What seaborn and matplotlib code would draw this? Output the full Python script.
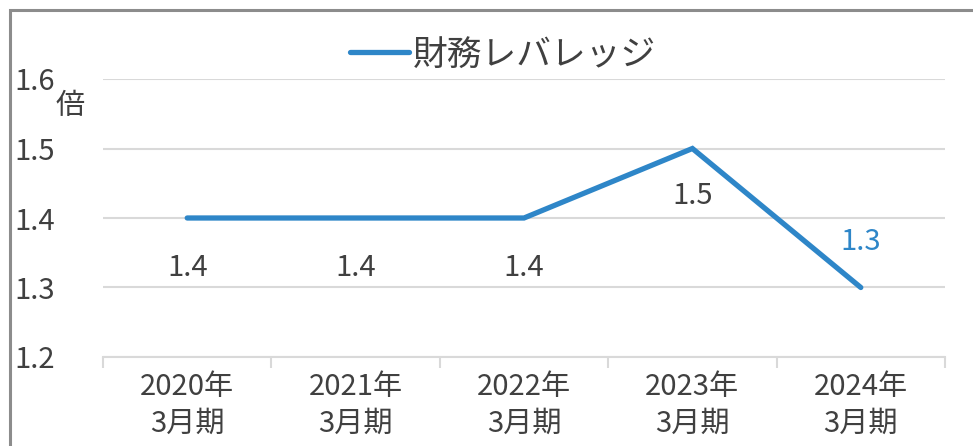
import matplotlib
matplotlib.use("Agg")
import matplotlib.pyplot as plt
from matplotlib.patches import Rectangle
import numpy as np
import pandas as pd
import seaborn as sns

sns.set_theme(style="white")
plt.rcParams['font.family'] = ['Noto Sans CJK JP', 'DejaVu Sans']

# data
categories = ["2020年\n3月期", "2021年\n3月期", "2022年\n3月期", "2023年\n3月期", "2024年\n3月期"]
leverage = [1.4, 1.4, 1.4, 1.5, 1.3]
label_offsets = [-0.072, -0.072, -0.072, -0.068, 0.065]
label_colors = ["#404040", "#404040", "#404040", "#404040", "#2E86C8"]
y_ticks = [1.2, 1.3, 1.4, 1.5, 1.6]
series_name = "財務レバレッジ"
unit = "倍"

line_color = "#2E86C8"
text_color = "#404040"
grid_color = "#D9D9D9"

W, H = 973, 446
fig = plt.figure(figsize=(W / 100, H / 100), dpi=100)
fig.patch.set_facecolor("white")

# frame (cut off at right and bottom like the screenshot)
fig.patches.append(Rectangle((10 / W, -0.1), 1.2, 1.1 - 10 / H,
                             transform=fig.transFigure, fill=False,
                             edgecolor="#8C8C8C", linewidth=2.2))

ax = fig.add_axes([103 / W, (H - 357) / H, (945 - 103) / W, (357 - 79) / H])

df = pd.DataFrame({"x": np.arange(len(categories)), "y": leverage})
sns.lineplot(data=df, x="x", y="y", ax=ax, color=line_color, linewidth=3.8,
             solid_capstyle="round", solid_joinstyle="miter", label=series_name)

for i, (v, off, c) in enumerate(zip(leverage, label_offsets, label_colors)):
    ax.text(i, v + off, f"{v:.1f}", ha="center", va="center",
            fontsize=21, color=c)

ax.set_xlim(-0.5, len(categories) - 0.5)
ax.set_ylim(1.2, 1.6)
ax.set_yticks(y_ticks)
ax.set_yticklabels([f"{t:.1f}" for t in y_ticks])
ax.set_xticks(range(len(categories)))
ax.set_xticklabels(categories, linespacing=1.3)
ax.set_xticks(np.arange(-0.5, len(categories)), minor=True)
ax.tick_params(axis="x", which="major", length=0, pad=11, labelsize=21,
               labelcolor=text_color)
ax.tick_params(axis="x", which="minor", length=8, width=1.5, color=grid_color,
               direction="out", bottom=True)
ax.tick_params(axis="y", length=0, pad=64, labelsize=21, labelcolor=text_color)
for lab in ax.get_yticklabels():
    lab.set_horizontalalignment("left")
ax.set_xlabel("")
ax.set_ylabel("")

ax.grid(axis="y", color=grid_color, linewidth=1.5)
ax.set_axisbelow(True)
for s in ["top", "right", "left"]:
    ax.spines[s].set_visible(False)
ax.spines["bottom"].set_color(grid_color)
ax.spines["bottom"].set_linewidth(1.5)

fig.text(70 / W, 1 - 106 / H, unit, ha="center", va="center",
         fontsize=21, color=text_color)

leg = ax.legend(loc="center", bbox_to_anchor=(503 / W, 1 - 55 / H),
                bbox_transform=fig.transFigure, frameon=False,
                fontsize=25, handlelength=1.7, handletextpad=0.1)
for t in leg.get_texts():
    t.set_color(text_color)

fig.savefig("out.png", dpi=100)
